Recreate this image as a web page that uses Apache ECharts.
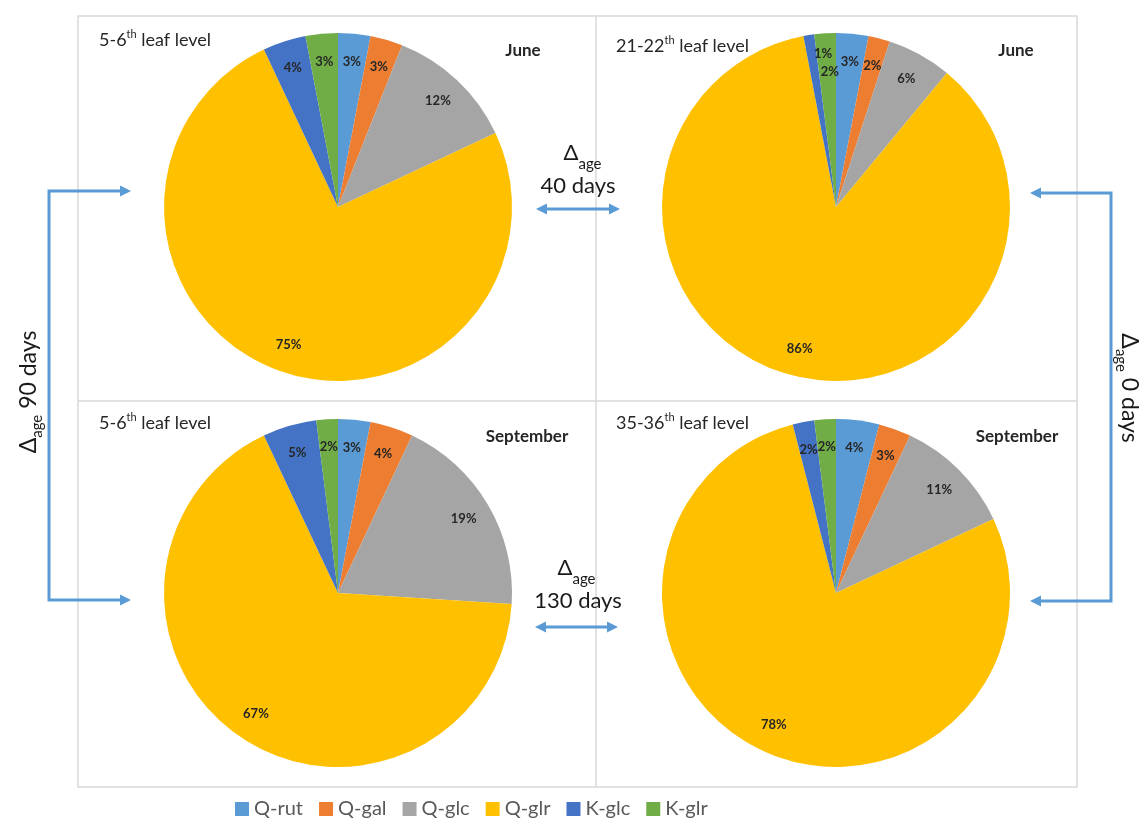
<!DOCTYPE html>
<html>
<head>
<meta charset="utf-8">
<script src="https://cdn.jsdelivr.net/npm/echarts@6/dist/echarts.min.js"></script>
<style>
  html, body { margin: 0; padding: 0; background: #fff; }
  #chart { width: 1146px; height: 819px; }
</style>
</head>
<body>
<div id="chart"></div>
<script>
// compounds, clockwise from 12 o'clock
const compounds = ["Q-rut", "Q-gal", "Q-glc", "Q-glr", "K-glc", "K-glr"];
const colors = ["#5B9BD5", "#ED7D31", "#A5A5A5", "#FFC000", "#4472C4", "#70AD47"];

const juneYoung = [3, 3, 12, 75, 4, 3];   // 5-6th leaf level, June
const juneOld = [3, 2, 6, 86, 1, 2];      // 21-22th leaf level, June
const septYoung = [3, 4, 19, 67, 5, 2];   // 5-6th leaf level, September
const septOld = [4, 3, 11, 78, 2, 2];     // 35-36th leaf level, September

const font = "Lato, 'Open Sans', sans-serif";
const blue = "#5B9BD5";

let myChart = echarts.init(document.getElementById("chart"), null, { renderer: "canvas" });

function toData(values) {
  return compounds.map((name, i) => ({ name: name, value: values[i], itemStyle: { color: colors[i] } }));
}

function pie(values, center) {
  return {
    type: "pie",
    center: center,
    radius: [0, 174],
    startAngle: 90,
    clockwise: true,
    silent: true,
    label: { show: false },
    labelLine: { show: false },
    data: toData(values),
  };
}

// transparent ring carrying the percent labels near the rim
function labels(values, center, nudge) {
  return {
    type: "pie",
    center: center,
    radius: [112, 174],
    startAngle: 90,
    clockwise: true,
    silent: true,
    avoidLabelOverlap: false,
    minShowLabelAngle: 0,
    itemStyle: { color: "rgba(0,0,0,0)" },
    label: {
      show: true,
      position: "inside",
      formatter: "{c}%",
      color: "#262626",
      fontFamily: font,
      fontWeight: "bold",
      fontSize: 13,
    },
    labelLayout: nudge ? (p) => nudge[p.dataIndex] || {} : { hideOverlap: false },
    labelLine: { show: false },
    data: compounds.map((name, i) => ({ name: name, value: values[i] })),
  };
}

function title(x, y, a, sup, b) {
  return {
    type: "text",
    left: x,
    top: y,
    style: {
      text: "{n|" + a + "}{s|" + sup + "}{n|" + b + "}",
      rich: {
        n: { fontSize: 18, fontFamily: font, fill: "#262626", lineHeight: 22 },
        s: { fontSize: 11, fontFamily: font, fill: "#262626", lineHeight: 22, verticalAlign: "top" },
      },
    },
  };
}

function month(text, x, y) {
  return {
    type: "text",
    x: x,
    y: y,
    style: { text: text, fontSize: 17, fontWeight: "bold", fontFamily: font, fill: "#262626", align: "center", verticalAlign: "middle" },
  };
}

function arrowHead(tip, dir) {
  // dir: 1 points right, -1 points left
  const [x, y] = tip;
  return {
    type: "polygon",
    shape: { points: [[x, y], [x - dir * 11, y - 5.5], [x - dir * 11, y + 5.5]] },
    style: { fill: blue },
  };
}

function line(points) {
  return { type: "polyline", shape: { points: points }, style: { stroke: blue, lineWidth: 3, fill: null } };
}

function delta(x, y, dx, days) {
  return [
    { type: "text", x: x + dx, y: y, style: { text: "Δ", fontSize: 22, fontFamily: font, fill: "#1a1a1a", align: "center", verticalAlign: "middle" } },
    { type: "text", x: x + dx + 19, y: y + 11, style: { text: "age", fontSize: 15, fontFamily: font, fill: "#1a1a1a", align: "center", verticalAlign: "middle" } },
    { type: "text", x: x, y: y + 33, style: { text: days, fontSize: 22, fontFamily: font, fill: "#1a1a1a", align: "center", verticalAlign: "middle" } },
  ];
}

function sideText(x, y, rot, days) {
  return {
    type: "group",
    x: x,
    y: y,
    rotation: rot,
    children: [
      {
        type: "text",
        style: {
          text: "{d|Δ}{s|age}{d| " + days + "}",
          align: "center",
          verticalAlign: "middle",
          rich: {
            d: { fontSize: 23, fontFamily: font, fill: "#1a1a1a", lineHeight: 32 },
            s: { fontSize: 15, fontFamily: font, fill: "#1a1a1a", lineHeight: 32, verticalAlign: "bottom" },
          },
        },
      },
    ],
  };
}

const graphics = [
  { type: "rect", shape: { x: 78, y: 16, width: 999, height: 771 }, style: { fill: null, stroke: "#d9d9d9", lineWidth: 1.5 }, z: -1 },
  { type: "line", shape: { x1: 596, y1: 16, x2: 596, y2: 787 }, style: { stroke: "#d9d9d9", lineWidth: 1.5 }, z: -1 },
  { type: "line", shape: { x1: 78, y1: 401, x2: 1077, y2: 401 }, style: { stroke: "#d9d9d9", lineWidth: 1.5 }, z: -1 },
  title(99, 29, "5-6", "th", " leaf level"),
  title(616, 35, "21-22", "th", " leaf level"),
  title(99, 412, "5-6", "th", " leaf level"),
  title(616, 412, "35-36", "th", " leaf level"),
  month("June", 523, 51),
  month("June", 1016, 51),
  month("September", 527, 437),
  month("September", 1017, 437),
  line([[120, 191], [49, 191], [49, 600], [120, 600]]),
  arrowHead([131, 191], 1),
  arrowHead([131, 600], 1),
  line([[1040, 193], [1111, 193], [1111, 601], [1040, 601]]),
  arrowHead([1030, 193], -1),
  arrowHead([1030, 601], -1),
  line([[546, 209], [610, 209]]),
  arrowHead([536, 209], -1),
  arrowHead([620, 209], 1),
  line([[545, 627], [608, 627]]),
  arrowHead([535, 627], -1),
  arrowHead([618, 627], 1),
  ...delta(578, 153, -7, "40 days"),
  ...delta(578, 568, -13, "130 days"),
  sideText(29, 392, Math.PI / 2, "90 days"),
  sideText(1129, 388, -Math.PI / 2, "0 days"),
];

myChart.setOption({
  animation: false,
  backgroundColor: "#fff",
  legend: {
    left: 230,
    top: 794,
    itemWidth: 14,
    itemHeight: 14,
    itemGap: 16,
    icon: "rect",
    textStyle: { fontSize: 20, fontFamily: font, color: "#595959" },
    data: compounds.map((name, i) => ({ name: name, itemStyle: { color: colors[i] } })),
  },
  graphic: graphics,
  series: [
    pie(juneYoung, [338, 207]),
    pie(juneOld, [836, 207]),
    pie(septYoung, [338, 593]),
    pie(septOld, [836, 593]),
    labels(juneYoung, [338, 207]),
    labels(juneOld, [836, 207], { 4: { dx: 10, dy: -9 }, 5: { dx: 3, dy: 11 } }),
    labels(septYoung, [338, 593]),
    labels(septOld, [836, 593]),
  ],
});
</script>
</body>
</html>
